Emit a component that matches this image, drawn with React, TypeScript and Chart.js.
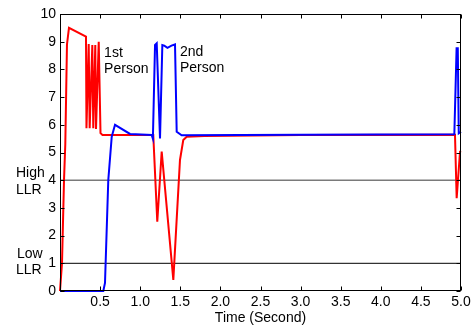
import React, { useEffect, useRef } from "react";
import { Chart, registerables } from "chart.js";

Chart.register(...registerables);

// ---- data ----
const redTime = [0, 0.012, 0.025, 0.05, 0.066, 0.087, 0.112, 0.324, 0.33, 0.358, 0.37, 0.403, 0.415, 0.44, 0.449, 0.483, 0.505, 0.53, 1.163, 1.213, 1.268, 1.413, 1.496, 1.537, 1.58, 1.8, 3.0, 4.925, 4.946, 4.988, 5.0];
const redLLR = [0, 0, 1.0, 4.0, 5.3, 8.9, 9.5, 9.18, 5.88, 8.92, 5.88, 8.88, 5.88, 8.88, 5.85, 9.0, 5.7, 5.63, 5.63, 2.5, 5.03, 0.4, 4.73, 5.45, 5.57, 5.6, 5.63, 5.64, 3.35, 5.03, 5.05];

const blueTime = [0, 0.54, 0.561, 0.602, 0.645, 0.686, 0.873, 1.143, 1.158, 1.185, 1.206, 1.247, 1.276, 1.3, 1.34, 1.39, 1.434, 1.455, 1.517, 3.0, 4.917, 4.945, 4.96, 4.972, 5.0];
const blueLLR = [0, 0, 0.29, 4.0, 5.57, 6.0, 5.67, 5.63, 5.5, 8.88, 8.94, 5.51, 8.88, 8.86, 8.78, 8.86, 8.9, 5.75, 5.62, 5.64, 5.66, 8.76, 8.76, 5.69, 5.75];

const highLLR = 4;
const lowLLR = 1;
const thresholdLabels = [["High", "LLR"], ["Low", "LLR"]];
const personLabels = [["1st", "Person"], ["2nd", "Person"]];
const xTitle = "Time (Second)";

const FONT = "Liberation Sans, Arial, sans-serif";
const FS = 14;

const frameAndText = {
  id: "frameAndText",
  afterDraw(chart: any) {
    const { ctx, chartArea: a, scales } = chart;
    const xs = scales.x;
    const ys = scales.y;
    ctx.save();
    ctx.strokeStyle = "#000";
    ctx.lineWidth = 1;
    const L = Math.round(a.left) + 0.5;
    const R = Math.round(a.right) - 0.5;
    const T = Math.round(a.top) + 0.5;
    const B = Math.round(a.bottom) - 0.5;
    ctx.strokeRect(L, T, R - L, B - T);
    const len = 4;
    ctx.beginPath();
    xs.ticks.forEach((t: any) => {
      const px = Math.round(xs.getPixelForValue(t.value)) + 0.5;
      ctx.moveTo(px, B);
      ctx.lineTo(px, B - len);
      ctx.moveTo(px, T);
      ctx.lineTo(px, T + len);
    });
    ys.ticks.forEach((t: any) => {
      const py = Math.round(ys.getPixelForValue(t.value)) + 0.5;
      ctx.moveTo(L, py);
      ctx.lineTo(L + len, py);
      ctx.moveTo(R, py);
      ctx.lineTo(R - len, py);
    });
    ctx.stroke();

    ctx.fillStyle = "#000";
    ctx.font = `${FS}px ${FONT}`;
    ctx.textAlign = "left";
    ctx.textBaseline = "alphabetic";
    const cap = FS * 0.358;
    const yHigh = ys.getPixelForValue(highLLR);
    const yLow = ys.getPixelForValue(lowLLR);
    ctx.fillText(thresholdLabels[0][0], 16, yHigh - 8.5 + cap);
    ctx.fillText(thresholdLabels[0][1], 16, yHigh + 9 + cap);
    ctx.fillText(thresholdLabels[1][0], 17, yLow - 10 + cap);
    ctx.fillText(thresholdLabels[1][1], 16, yLow + 6 + cap);

    const p1x = xs.getPixelForValue(0.55);
    const p1y = ys.getPixelForValue(8.64);
    ctx.fillText(personLabels[0][0], p1x, p1y + cap);
    ctx.fillText(personLabels[0][1], p1x, p1y + 16.6 + cap);
    const p2x = xs.getPixelForValue(1.496);
    const p2y = ys.getPixelForValue(8.67);
    ctx.fillText(personLabels[1][0], p2x, p2y + cap);
    ctx.fillText(personLabels[1][1], p2x, p2y + 16 + cap);
    ctx.restore();
  },
};

export default function App() {
  const ref = useRef<HTMLCanvasElement | null>(null);
  useEffect(() => {
    if (!ref.current) return;
    const toPts = (xs: number[], ys: number[]) => xs.map((x, i) => ({ x, y: ys[i] }));
    const chart = new Chart(ref.current, {
      type: "line",
      data: {
        datasets: [
          {
            label: "2nd",
            data: toPts(blueTime, blueLLR),
            borderColor: "#0000ff",
            borderWidth: 2,
            pointRadius: 0,
            tension: 0,
            clip: 3,
          },
          {
            label: "1st",
            data: toPts(redTime, redLLR),
            borderColor: "#ff0000",
            borderWidth: 2,
            pointRadius: 0,
            tension: 0,
            clip: 3,
          },
          {
            label: "High LLR",
            data: [
              { x: 0, y: highLLR },
              { x: 5, y: highLLR },
            ],
            borderColor: "#7a7a7a",
            borderWidth: 1.6,
            pointRadius: 0,
          },
          {
            label: "Low LLR",
            data: [
              { x: 0, y: lowLLR },
              { x: 5, y: lowLLR },
            ],
            borderColor: "#000000",
            borderWidth: 1,
            pointRadius: 0,
          },
        ],
      },
      options: {
        animation: false,
        responsive: true,
        maintainAspectRatio: false,
        layout: { padding: { top: 14, right: 14, left: 0, bottom: 0 } },
        plugins: { legend: { display: false }, tooltip: { enabled: false } },
        scales: {
          x: {
            type: "linear",
            min: 0,
            max: 5,
            grid: { display: false, drawTicks: false, tickLength: 0 },
            border: { display: false },
            ticks: {
              stepSize: 0.5,
              padding: 3,
              color: "#000",
              font: { family: FONT, size: FS },
              maxRotation: 0,
              autoSkip: false,
              callback: (v: any) => (Number(v) === 0 ? "" : Number(v).toFixed(1)),
            },
            title: {
              display: true,
              text: xTitle,
              color: "#000",
              font: { family: FONT, size: FS },
              padding: { top: 0, bottom: 2 },
            },
            afterFit: (s: any) => {
              s.height = 38;
            },
          },
          y: {
            min: 0,
            max: 10,
            grid: { display: false, drawTicks: false, tickLength: 0 },
            border: { display: false },
            ticks: {
              stepSize: 1,
              padding: 4,
              color: "#000",
              font: { family: FONT, size: FS },
            },
            afterFit: (s: any) => {
              s.width = 60;
            },
          },
        },
      },
      plugins: [frameAndText],
    });
    return () => chart.destroy();
  }, []);
  return (
    <div style={{ position: "fixed", left: 0, top: 0, width: 475, height: 329, background: "#fff" }}>
      <canvas ref={ref} />
    </div>
  );
}
